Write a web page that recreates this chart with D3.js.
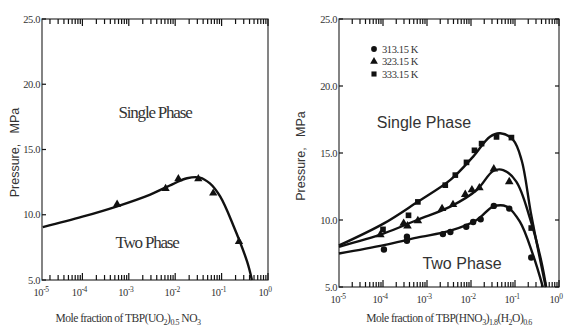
<!DOCTYPE html>
<html>
<head>
<meta charset="utf-8">
<script src="https://cdn.jsdelivr.net/npm/d3@7"></script>
<style>
  body { margin: 0; background: #fff; }
  svg { display: block; }
</style>
</head>
<body>
<svg id="chart" width="566" height="329"></svg>
<script>
const svg = d3.select("#chart");

// ---- data ----
// left panel: TBP(UO2)0.5 NO3, triangles
const uoPoints = [[5.6e-4, 10.8], [6.2e-3, 12.0], [1.17e-2, 12.75], [3.15e-2, 12.75], [6.6e-2, 11.65], [0.237, 7.95]];
const uoCurve = [[1.4e-5, 9.05], [1.0e-4, 9.85], [5.6e-4, 10.65], [2.9e-3, 11.55], [8.9e-3, 12.35], [1.8e-2, 12.8], [3.4e-2, 12.85], [5.6e-2, 12.4], [9.3e-2, 11.4], [0.178, 9.2], [0.355, 6.4], [0.45, 5.0]];

// right panel: TBP(HNO3)1.8(H2O)0.6
const temps = ["313.15 K", "323.15 K", "333.15 K"];
const pts313 = [[1.05e-4, 7.8], [3.5e-4, 8.75], [3.5e-4, 8.45], [2.3e-3, 8.95], [3.4e-3, 9.1], [7.8e-3, 9.5], [1.12e-2, 9.85], [1.66e-2, 10.05], [3.3e-2, 11.05], [7.4e-2, 10.85], [0.234, 7.2]];
const pts323 = [[8.7e-5, 8.9], [2.95e-4, 9.75], [3.6e-4, 9.55], [6.2e-4, 9.95], [2.2e-3, 10.85], [3.9e-3, 11.15], [7.4e-3, 11.9], [1.05e-2, 12.25], [1.55e-2, 12.4], [3.3e-2, 13.8], [7.4e-2, 12.85]];
const pts333 = [[1.0e-4, 9.3], [3.8e-4, 10.35], [6.2e-4, 11.35], [2.6e-3, 12.6], [4.4e-3, 13.35], [7.9e-3, 14.3], [1.2e-2, 15.2], [1.74e-2, 15.7], [3.8e-2, 16.2], [8.3e-2, 16.15], [0.234, 9.4]];
const curve313 = [[1e-5, 7.5], [1.05e-4, 8.13], [5.9e-4, 8.68], [3.4e-3, 9.2], [1.35e-2, 10.0], [3.2e-2, 11.0], [6.5e-2, 11.0], [0.129, 9.87], [0.257, 7.39], [0.43, 5.0]];
const curve323 = [[1e-5, 8.0], [1.05e-4, 9.0], [5.9e-4, 10.0], [3.4e-3, 11.0], [1.35e-2, 12.24], [3.2e-2, 13.66], [5.4e-2, 13.73], [0.107, 12.86], [0.219, 10.12], [0.398, 6.89], [0.51, 5.0]];
const curve333 = [[1e-5, 8.1], [1.05e-4, 9.75], [5.9e-4, 11.32], [3.4e-3, 12.99], [1.12e-2, 14.73], [2.7e-2, 16.22], [4.6e-2, 16.47], [9.1e-2, 15.97], [0.141, 14.48], [0.234, 10.37], [0.5, 5.0]];

const decades = [-5, -4, -3, -2, -1, 0];
const yTicks = [5, 10, 15, 20, 25];

const serif = "'Liberation Serif', 'DejaVu Serif', serif";
const sans = "'Liberation Sans', Arial, sans-serif";

// 1..9 x 10^k for every decade
const logTicks = [];
for (let k = -5; k < 0; k++) for (let m = 1; m < 10; m++) logTicks.push({ v: m * Math.pow(10, k), major: m === 1 });
logTicks.push({ v: 1, major: true });

const cfgL = {
  x0: 36, fx0: 42, x1: 268, y0: 19, y1: 280, rightTicks: false,
  yTitleX: 19, xTitleX: 128,
  xTitle: [["Mole fraction of TBP(UO"], ["2", "sub"], [")", "up"], ["0.5", "sub"], [" NO", "up"], ["3", "sub"]]
};
const cfgR = {
  x0: 339, fx0: 339, x1: 559, y0: 19, y1: 287, rightTicks: true,
  yTitleX: 305, xTitleX: 449,
  xTitle: [["Mole fraction of TBP(HNO"], ["3", "sub"], [")", "up"], ["1.8", "sub"], ["(H", "up"], ["2", "sub"], ["O)", "up"], ["0.6", "sub"]]
};

function panel(cfg) {
  const g = svg.append("g");
  const x = d3.scaleLog().domain([1e-5, 1]).range([cfg.x0, cfg.x1]);
  const y = d3.scaleLinear().domain([5, 25]).range([cfg.y1, cfg.y0]);

  // frame
  g.append("rect")
    .attr("x", cfg.fx0).attr("y", cfg.y0)
    .attr("width", cfg.x1 - cfg.fx0).attr("height", cfg.y1 - cfg.y0)
    .attr("fill", "none").attr("stroke", "#333").attr("stroke-width", 1.2);

  yTicks.forEach(v => {
    g.append("text").attr("x", cfg.fx0 - 2).attr("y", y(v) + 3.5)
      .attr("text-anchor", "end").attr("font-family", serif).attr("font-size", 10.5)
      .attr("letter-spacing", -0.4).attr("fill", "#333").text(v.toFixed(1));
  });

  // x tick labels
  decades.forEach(d => {
    const px = Math.max(x(Math.pow(10, d)), cfg.fx0 + 2) - 3;
    const t = g.append("text").attr("x", px).attr("y", cfg.y1 + 16)
      .attr("text-anchor", "middle").attr("font-family", serif).attr("font-size", 10.5)
      .attr("letter-spacing", -0.4).attr("fill", "#333");
    t.append("tspan").text("10");
    t.append("tspan").attr("dy", -4).attr("font-size", 7.5).text(String(d));
  });

  // axis titles
  g.append("text")
    .attr("transform", `translate(${cfg.yTitleX},${(cfg.y0 + cfg.y1) / 2 + 3}) rotate(-90)`)
    .attr("text-anchor", "middle").attr("font-family", sans).attr("font-size", 12.5)
    .attr("fill", "#333").attr("xml:space", "preserve").text("Pressure,   MPa");

  const xt = g.append("text").attr("x", cfg.xTitleX).attr("y", 322)
    .attr("text-anchor", "middle").attr("font-family", serif).attr("font-size", 11.5)
    .attr("letter-spacing", -0.5).attr("fill", "#333");
  cfg.xTitle.forEach(q => {
    const s = xt.append("tspan").text(q[0]);
    if (q[1] === "sub") s.attr("font-size", 8).attr("dy", 3);
    else if (q[1] === "up") s.attr("dy", -3);
  });

  return { g, x, y };
}

// tick marks, drawn last straight onto the svg
function drawTicks(P, cfg) {
  const ticks = logTicks.filter(t => P.x(t.v) >= cfg.fx0 + 1);
  [[cfg.y1, -1], [cfg.y0, 1]].forEach(([base, dir]) => {
    svg.append("g").selectAll("line").data(ticks).enter().append("line")
      .attr("x1", t => P.x(t.v)).attr("x2", t => P.x(t.v))
      .attr("y1", base).attr("y2", t => base + dir * (t.major ? 7 : 5))
      .attr("stroke", "#111").attr("stroke-width", 1.2);
  });
  const sides = cfg.rightTicks ? [[cfg.fx0, 1], [cfg.x1, -1]] : [[cfg.fx0, 1]];
  sides.forEach(([base, dir]) => {
    svg.append("g").selectAll("line").data(yTicks).enter().append("line")
      .attr("x1", base).attr("x2", base + dir * 4)
      .attr("y1", v => P.y(v)).attr("y2", v => P.y(v))
      .attr("stroke", "#111").attr("stroke-width", 1.2);
  });
}

const lineGen = (x, y) => d3.line().x(d => x(d[0])).y(d => y(d[1])).curve(d3.curveCatmullRom.alpha(0.5));

// ---------- left panel ----------
const L = panel(cfgL);
L.g.append("path").datum(uoCurve).attr("d", lineGen(L.x, L.y))
  .attr("fill", "none").attr("stroke", "#111").attr("stroke-width", 2.4);
L.g.selectAll(".tri").data(uoPoints).enter().append("path")
  .attr("transform", d => `translate(${L.x(d[0])},${L.y(d[1])})`)
  .attr("d", d3.symbol(d3.symbolTriangle, 30)).attr("fill", "#111");
L.g.append("text").attr("x", 155).attr("y", 118).attr("text-anchor", "middle")
  .attr("font-family", serif).attr("font-size", 17).attr("letter-spacing", -1.2).attr("fill", "#333").text("Single Phase");
L.g.append("text").attr("x", 147).attr("y", 248).attr("text-anchor", "middle")
  .attr("font-family", serif).attr("font-size", 17).attr("letter-spacing", -1.2).attr("fill", "#333").text("Two Phase");

// ---------- right panel ----------
const R = panel(cfgR);
[curve313, curve323, curve333].forEach(c => {
  R.g.append("path").datum(c).attr("d", lineGen(R.x, R.y))
    .attr("fill", "none").attr("stroke", "#111").attr("stroke-width", 2.4);
});
const symbols = [d3.symbolCircle, d3.symbolTriangle, d3.symbolSquare];
[pts313, pts323, pts333].forEach((pts, i) => {
  R.g.selectAll(".s" + i).data(pts).enter().append("path")
    .attr("transform", d => `translate(${R.x(d[0])},${R.y(d[1])})`)
    .attr("d", d3.symbol(symbols[i], 32)).attr("fill", "#111");
});
// legend
temps.forEach((t, i) => {
  const ly = 49 + i * 12.5;
  R.g.append("path").attr("transform", `translate(374,${ly})`)
    .attr("d", d3.symbol(symbols[i], 26)).attr("fill", "#111");
  R.g.append("text").attr("x", 382).attr("y", ly + 3.5).attr("font-family", serif)
    .attr("font-size", 10.5).attr("letter-spacing", -0.4).attr("fill", "#333").text(t);
});
R.g.append("text").attr("x", 424).attr("y", 128).attr("text-anchor", "middle")
  .attr("font-family", sans).attr("font-size", 16).attr("fill", "#333").text("Single Phase");
R.g.append("text").attr("x", 462).attr("y", 269).attr("text-anchor", "middle")
  .attr("font-family", sans).attr("font-size", 16).attr("fill", "#333").text("Two Phase");

drawTicks(L, cfgL);
drawTicks(R, cfgR);
</script>
</body>
</html>
